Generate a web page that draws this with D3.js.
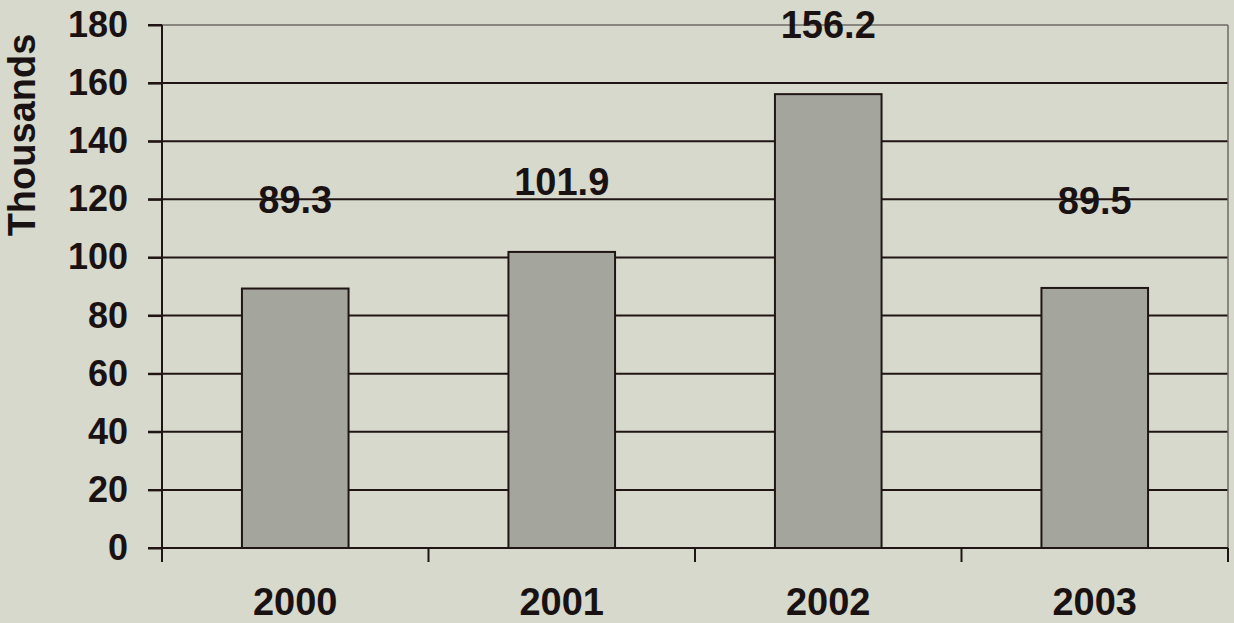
<!DOCTYPE html>
<html>
<head>
<meta charset="utf-8">
<script src="https://cdn.jsdelivr.net/npm/d3@7"></script>
<style>
  body { margin: 0; background: #d6d9cc; }
  text { font-family: "Liberation Sans", Arial, sans-serif; font-weight: bold; fill: #1a1212; }
</style>
</head>
<body>
<div id="chart"></div>
<script>
// chart values
let years = ["2000", "2001", "2002", "2003"];
let values = [89.3, 101.9, 156.2, 89.5];
let yTicks = [0, 20, 40, 60, 80, 100, 120, 140, 160, 180];

let svgWidth = 1234;
let svgHeight = 623;
let margin = { top: 25, right: 6, bottom: 75, left: 162 };
let width = svgWidth - margin.left - margin.right;
let height = svgHeight - margin.top - margin.bottom;

// label lift above bar tops, as placed in the original
let labelDy = [-76, -57, -56, -74];

let svg = d3.select("#chart")
  .append("svg")
  .attr("width", svgWidth)
  .attr("height", svgHeight);

svg.append("rect")
  .attr("width", svgWidth)
  .attr("height", svgHeight)
  .attr("fill", "#d6d9cc");

let chart = svg.append("g")
  .attr("transform", "translate(" + margin.left + "," + margin.top + ")");

let x = d3.scaleBand()
  .domain(years)
  .range([0, width])
  .paddingInner(0.6)
  .paddingOuter(0.3);

let y = d3.scaleLinear()
  .domain([0, 180])
  .range([height, 0]);

// gridlines + left ticks
chart.append("g")
  .selectAll("line")
  .data(yTicks.filter(d => d > 0 && d < 180))
  .enter()
  .append("line")
  .attr("x1", -14)
  .attr("x2", width)
  .attr("y1", d => y(d))
  .attr("y2", d => y(d))
  .attr("stroke", "#201414")
  .attr("stroke-width", 2);

// top and right border
chart.append("line")
  .attr("x1", 0).attr("x2", width)
  .attr("y1", y(180)).attr("y2", y(180))
  .attr("stroke", "#6e6a66").attr("stroke-width", 1.5);
chart.append("line")
  .attr("x1", -14).attr("x2", 0)
  .attr("y1", y(180)).attr("y2", y(180))
  .attr("stroke", "#201414").attr("stroke-width", 2);
chart.append("line")
  .attr("x1", width).attr("x2", width)
  .attr("y1", y(180)).attr("y2", y(0))
  .attr("stroke", "#6e6a66").attr("stroke-width", 1.5);

// bars
chart.append("g")
  .selectAll("rect")
  .data(values)
  .enter()
  .append("rect")
  .attr("x", (d, i) => x(years[i]))
  .attr("y", d => y(d))
  .attr("width", x.bandwidth())
  .attr("height", d => y(0) - y(d))
  .attr("fill", "#a4a69e")
  .attr("stroke", "#201414")
  .attr("stroke-width", 2);

// y axis
let leftAxis = d3.axisLeft(y)
  .tickValues(yTicks)
  .tickSize(14)
  .tickPadding(20);

let yAxis = chart.append("g").call(leftAxis);
yAxis.select(".domain").remove();
yAxis.selectAll(".tick line").attr("stroke", "#201414").attr("stroke-width", 2);
yAxis.selectAll(".tick text")
  .attr("font-size", 36)
  .attr("font-family", null)
  .attr("fill", "#1a1212");

chart.append("line")
  .attr("x1", 0).attr("x2", 0)
  .attr("y1", y(180)).attr("y2", y(0))
  .attr("stroke", "#201414").attr("stroke-width", 2);

// x axis line and boundary ticks
chart.append("line")
  .attr("x1", -14).attr("x2", width)
  .attr("y1", y(0)).attr("y2", y(0))
  .attr("stroke", "#201414").attr("stroke-width", 2);

let step = x.step();
chart.append("g")
  .selectAll("line")
  .data(d3.range(years.length + 1))
  .enter()
  .append("line")
  .attr("x1", d => d * step)
  .attr("x2", d => d * step)
  .attr("y1", y(0))
  .attr("y2", y(0) + 14)
  .attr("stroke", "#201414")
  .attr("stroke-width", 2);

chart.append("g")
  .selectAll("text")
  .data(years)
  .enter()
  .append("text")
  .attr("x", d => x(d) + x.bandwidth() / 2)
  .attr("y", height + 67)
  .attr("text-anchor", "middle")
  .attr("font-size", 38)
  .text(d => d);

// value labels
chart.append("g")
  .selectAll("text")
  .data(values)
  .enter()
  .append("text")
  .attr("x", (d, i) => x(years[i]) + x.bandwidth() / 2)
  .attr("y", (d, i) => y(d) + labelDy[i])
  .attr("text-anchor", "middle")
  .attr("font-size", 38)
  .text(d => d.toFixed(1));

// y axis title
svg.append("text")
  .attr("transform", "translate(35,135) rotate(-90)")
  .attr("text-anchor", "middle")
  .attr("font-size", 38)
  .text("Thousands");
</script>
</body>
</html>
